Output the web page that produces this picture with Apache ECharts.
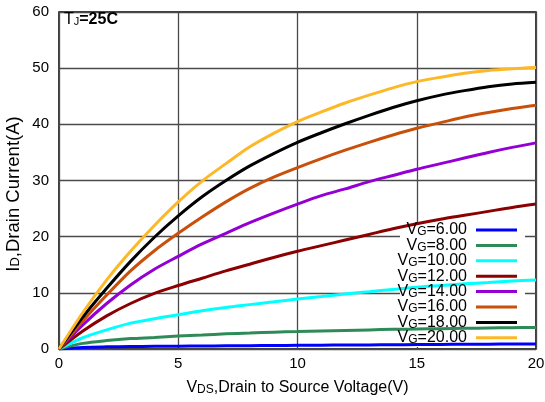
<!DOCTYPE html>
<html>
<head>
<meta charset="utf-8">
<script src="https://cdn.jsdelivr.net/npm/echarts@6/dist/echarts.min.js"></script>
<style>html,body{margin:0;padding:0;background:#fff;}#c{width:545px;height:402px;}</style>
</head>
<body>
<div id="c"></div>
<script>
// Drain-source voltage samples (V)
const vds = [0, 1, 2, 3, 4, 5, 6, 7, 8, 9, 10, 11, 12, 13, 14, 15, 16, 17, 18, 19, 20];
// Drain current (A) per gate voltage
const vg6  = [0, 0.28, 0.38, 0.43, 0.47, 0.5, 0.53, 0.56, 0.59, 0.62, 0.65, 0.68, 0.7, 0.73, 0.76, 0.79, 0.81, 0.84, 0.86, 0.88, 0.9];
const vg8  = [0, 1.0, 1.5, 1.85, 2.05, 2.3, 2.5, 2.7, 2.85, 3.0, 3.1, 3.2, 3.3, 3.4, 3.5, 3.55, 3.62, 3.68, 3.74, 3.8, 3.85];
const vg10 = [0, 2.0, 3.4, 4.6, 5.4, 6.1, 6.8, 7.4, 7.9, 8.4, 8.9, 9.35, 9.8, 10.2, 10.6, 11.0, 11.3, 11.6, 11.85, 12.1, 12.3];
const vg12 = [0, 3.2, 5.9, 8.1, 9.9, 11.3, 12.6, 13.9, 15.1, 16.3, 17.4, 18.4, 19.4, 20.4, 21.4, 22.3, 23.1, 23.8, 24.5, 25.2, 25.8];
const vg14 = [0, 4.3, 8.1, 11.4, 14.2, 16.5, 18.7, 20.6, 22.5, 24.2, 25.8, 27.3, 28.5, 29.8, 30.9, 32.0, 33.0, 34.0, 35.0, 35.9, 36.7];
const vg16 = [0, 5.0, 9.6, 13.9, 17.5, 20.6, 23.5, 26.2, 28.6, 30.6, 32.3, 33.9, 35.4, 36.8, 38.1, 39.3, 40.3, 41.3, 42.1, 42.8, 43.4];
const vg18 = [0, 5.7, 10.8, 15.6, 19.9, 23.7, 27.1, 30.0, 32.6, 34.8, 36.8, 38.5, 40.1, 41.6, 43.0, 44.2, 45.2, 46.0, 46.7, 47.2, 47.5];
const vg20 = [0, 6.5, 12.3, 17.4, 22.0, 26.2, 29.9, 33.0, 36.0, 38.4, 40.5, 42.2, 43.8, 45.2, 46.5, 47.6, 48.4, 49.1, 49.6, 49.9, 50.1];
const seriesNames = ['VG=6.00','VG=8.00','VG=10.00','VG=12.00','VG=14.00','VG=16.00','VG=18.00','VG=20.00'];
const seriesData = [vg6, vg8, vg10, vg12, vg14, vg16, vg18, vg20];
const colors = ['#0000ff','#2e8b57','#00ffff','#8b0000','#9400d3','#c8500a','#000000','#fdb827'];
const xTicks = [0, 5, 10, 15, 20];
const yTicks = [0, 10, 20, 30, 40, 50, 60];

const FONT = '"Liberation Sans", Arial, Helvetica, sans-serif';
const chart = echarts.init(document.getElementById('c'), null, {renderer: 'canvas'});

const series = seriesNames.map((name, i) => ({
  name: name,
  type: 'line',
  data: vds.map((x, j) => [x, seriesData[i][j]]),
  smooth: 0.3,
  symbol: 'none',
  lineStyle: {width: 3, color: colors[i]},
  itemStyle: {color: colors[i]},
  z: 3,
  animation: false
}));

const subRich = {
  n: {fontSize: 16, lineHeight: 16, verticalAlign: 'top', fontFamily: FONT, color: '#000'},
  s: {fontSize: 12, lineHeight: 12, padding: [8, 0, 0, 0], verticalAlign: 'bottom', fontFamily: FONT, color: '#000'},
  e: {fontSize: 16, lineHeight: 16, verticalAlign: 'top', padding: [0, 4, 0, 0], fontFamily: FONT, color: '#000'}
};

chart.setOption({
  animation: false,
  backgroundColor: '#fff',
  color: colors,
  grid: {left: 59, right: 9, top: 12, bottom: 53, show: true, borderColor: '#000', borderWidth: 1.5,
    backgroundColor: 'transparent', containLabel: false, outerBoundsMode: 'none'},
  xAxis: {
    type: 'value', min: 0, max: 20, interval: 5,
    axisLine: {show: false}, axisTick: {show: false},
    splitLine: {show: true, lineStyle: {color: '#4a4a4a', width: 1.3}},
    axisLabel: {fontSize: 15, color: '#000', fontFamily: FONT, margin: 7,
      formatter: v => xTicks.includes(v) ? String(v) : ''},
    name: '{n|V}{s|DS}{n|,Drain to Source Voltage(V)}',
    nameLocation: 'middle', nameGap: 27,
    nameTextStyle: {rich: subRich}
  },
  yAxis: {
    type: 'value', min: 0, max: 60, interval: 10,
    axisLine: {show: false}, axisTick: {show: false},
    splitLine: {show: true, lineStyle: {color: '#4a4a4a', width: 1.3}},
    axisLabel: {fontSize: 15, color: '#000', fontFamily: FONT, margin: 10,
      formatter: v => yTicks.includes(v) ? String(v) : ''}
  },
  legend: {
    orient: 'vertical', align: 'right',
    right: 28, top: 218, padding: 0,
    itemGap: -4.6, itemWidth: 41, itemHeight: 3,
    icon: 'rect',
    selectedMode: false,
    data: seriesNames,
    formatter: name => {
      const rest = name.slice(2);
      return '{n|V}{s|G}{e|' + rest + '}';
    },
    textStyle: {rich: subRich}
  },
  graphic: [
    {type: 'rect', z: 1, shape: {x: 400, y: 223, width: 125, height: 124}, style: {fill: '#fff'}, silent: true},
    {type: 'text', z: 5, x: 64, y: 12, style: {
      text: '{t|T}{j|J}{b|=25C}',
      rich: {
        t: {fontSize: 16, lineHeight: 15, verticalAlign: 'top', fontFamily: FONT, fill: '#000'},
        j: {fontSize: 11, lineHeight: 11, padding: [7, 0, 0, 0], verticalAlign: 'bottom', fontFamily: FONT, fill: '#000'},
        b: {fontSize: 16, lineHeight: 15, verticalAlign: 'top', fontWeight: 'bold', fontFamily: FONT, fill: '#000'}
      }
    }},
    {type: 'text', z: 5, x: 13, y: 194, rotation: Math.PI / 2, style: {
      text: '{n|I}{s|D}{n|,Drain Current(A)}',
      align: 'center', verticalAlign: 'middle',
      rich: {
        n: {fontSize: 18.5, lineHeight: 18, verticalAlign: 'top', fontFamily: FONT, fill: '#000'},
        s: {fontSize: 13, lineHeight: 13, padding: [9, 0, 0, 0], verticalAlign: 'bottom', fontFamily: FONT, fill: '#000'}
      }
    }}
  ],
  series: series
});
</script>
</body>
</html>
